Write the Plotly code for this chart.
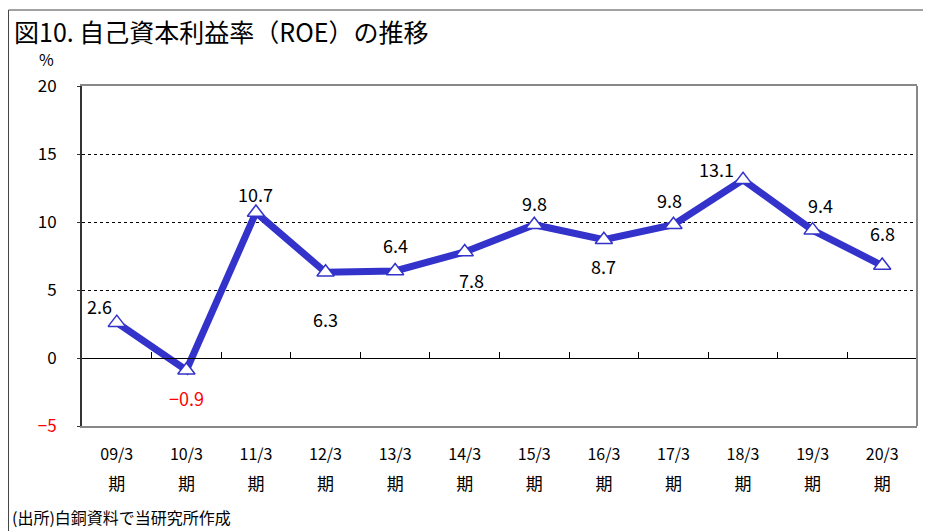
import plotly.graph_objects as go

categories = ["09/3", "10/3", "11/3", "12/3", "13/3", "14/3", "15/3", "16/3", "17/3", "18/3", "19/3", "20/3"]
roe = [2.6, -0.9, 10.7, 6.3, 6.4, 7.8, 9.8, 8.7, 9.8, 13.1, 9.4, 6.8]
label_text = ["2.6", "\u22120.9", "10.7", "6.3", "6.4", "7.8", "9.8", "8.7", "9.8", "13.1", "9.4", "6.8"]
label_dx = [-17, 0, 0, 0, 0, 7, 0, 0, -4, -27, 8, 0]
label_dy = [17, -28, 18, -47, 26, -28, 22, -26, 25, 11, 25, 33]
y_ticks = [20, 15, 10, 5, 0, -5]
y_ticktext = ["20", "15", "10", "5", "0", "<span style='color:red'>\u22125</span>"]
sub_label = ["期"] * len(categories)

FONT = "Noto Sans CJK JP"
BLUE = "#3333CC"

fig = go.Figure()
fig.add_trace(go.Scatter(
    x=categories, y=roe, mode="lines+markers",
    line=dict(color=BLUE, width=7),
    marker=dict(symbol="triangle-up", size=15, color="white",
                line=dict(color=BLUE, width=1.5)),
    showlegend=False, hoverinfo="skip", cliponaxis=False))
# invisible traces to bring helper axes to life
fig.add_trace(go.Scatter(x=categories, y=roe, mode="none", xaxis="x2",
                         showlegend=False, hoverinfo="skip"))
fig.add_trace(go.Scatter(x=categories, y=roe, mode="none", xaxis="x3",
                         showlegend=False, hoverinfo="skip"))

for c, v, t, dx, dy in zip(categories, roe, label_text, label_dx, label_dy):
    fig.add_annotation(x=c, y=v, xref="x", yref="y", text=t, showarrow=False,
                       xshift=dx, yshift=dy,
                       font=dict(family=FONT, size=18, color="red" if v < 0 else "black"))

# page body has an 8px margin, so the figure is sized/shifted to fit the window
fig.update_layout(
    width=923, height=523,
    margin=dict(l=74, r=14, t=78, b=105),
    paper_bgcolor="white", plot_bgcolor="white",
    font=dict(family=FONT, color="black"),
    xaxis=dict(type="category", categoryorder="array", categoryarray=categories,
               range=[-0.5, 11.5], showgrid=False, zeroline=False,
               showline=True, mirror=True, linecolor="#888888", linewidth=2,
               ticks="", tickfont=dict(size=16, family=FONT),
               ticklabelstandoff=13),
    xaxis2=dict(type="category", categoryorder="array", categoryarray=categories,
                range=[-0.5, 11.5], overlaying="x", anchor="free", position=0.2,
                showgrid=False, zeroline=False, showline=True, linecolor="black",
                linewidth=1, ticks="inside", tickson="boundaries", ticklen=6,
                tickcolor="black", showticklabels=False),
    xaxis3=dict(type="category", categoryorder="array", categoryarray=categories,
                range=[-0.5, 11.5], overlaying="x", anchor="free", position=0,
                showgrid=False, zeroline=False, showline=False, ticks="",
                tickmode="array", tickvals=categories, ticktext=sub_label,
                tickfont=dict(size=17, family=FONT), ticklabelstandoff=46),
    yaxis=dict(range=[-5, 20], tickvals=y_ticks, ticktext=y_ticktext,
               showgrid=True, gridcolor="black", griddash="dot", gridwidth=1,
               zeroline=True, zerolinecolor="black", zerolinewidth=1,
               showline=True, linecolor="#333333", linewidth=2,
               ticks="outside", ticklen=3, tickcolor="#333333",
               tickfont=dict(size=17, family=FONT), ticklabelstandoff=17),
    shapes=[
        dict(type="line", xref="paper", yref="paper", x0=1, x1=1, y0=0, y1=1,
             line=dict(color="#888888", width=2)),
        dict(type="line", xref="paper", yref="paper", x0=-0.0880, x1=1.0156,
             y0=1.2235, y1=1.2235, line=dict(color="#444444", width=1)),
        dict(type="line", xref="paper", yref="paper", x0=-0.0880, x1=-0.0880,
             y0=1.2235, y1=-0.33, line=dict(color="#444444", width=1)),
    ],
)

fig.add_annotation(xref="paper", yref="paper", x=-0.0835, y=1.161,
                   xanchor="left", yanchor="middle", showarrow=False,
                   text="図10. 自己資本利益率（ROE）の推移",
                   font=dict(family=FONT, size=25, color="black"))
fig.add_annotation(xref="paper", yref="paper", x=-0.042, y=1.078,
                   xanchor="center", yanchor="middle", showarrow=False,
                   text="%", font=dict(family=FONT, size=16, color="black"))
fig.add_annotation(xref="paper", yref="paper", x=-0.0862, y=-0.268,
                   xanchor="left", yanchor="middle", showarrow=False,
                   text="(出所)白銅資料で当研究所作成",
                   font=dict(family=FONT, size=16, color="black"))

fig.write_html("out.html")
